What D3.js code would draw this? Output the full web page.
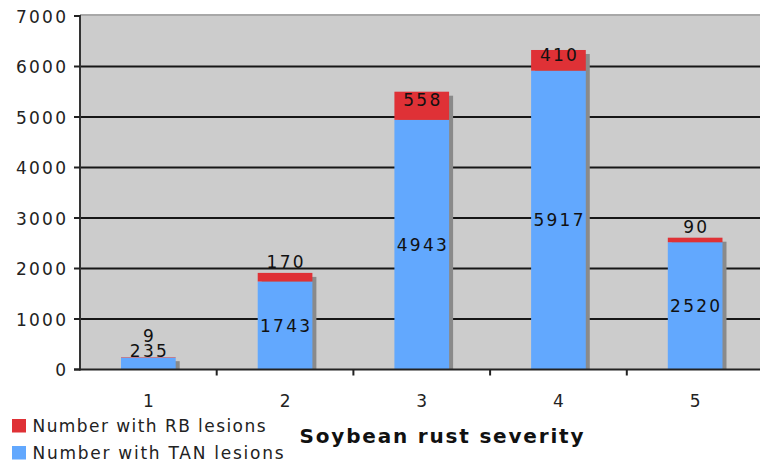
<!DOCTYPE html>
<html>
<head>
<meta charset="utf-8">
<script src="https://cdn.jsdelivr.net/npm/d3@7"></script>
<style>
  html, body { margin: 0; padding: 0; background: #fff; }
  svg { display: block; font-family: "DejaVu Sans", Verdana, sans-serif; }
</style>
</head>
<body>
<svg id="chart" width="760" height="466"></svg>
<script>
const categories = ["1", "2", "3", "4", "5"];
const tanValues = [235, 1743, 4943, 5917, 2520];
const rbValues = [9, 170, 558, 410, 90];
const yTicks = [0, 1000, 2000, 3000, 4000, 5000, 6000, 7000];
const seriesNames = ["Number with RB lesions", "Number with TAN lesions"];
const xTitle = "Soybean rust severity";

(function () {
const colors = { rb: "#df3136", tan: "#62a8fe", bg: "#cccccc", shadow: "#8a8a8a" };

const svg = d3.select("#chart");
const pLeft = 80, pRight = 763.5, pTop = 16, pBottom = 369.5;

const x = d3.scaleBand().domain(categories).range([pLeft, pRight]).paddingInner(0).paddingOuter(0);
const y = d3.scaleLinear().domain([0, 7000]).range([pBottom, pTop]);
const barW = x.bandwidth() * 0.4;

// plot background
svg.append("rect").attr("x", pLeft).attr("y", y(7000)).attr("width", pRight - pLeft).attr("height", pBottom - y(7000)).attr("fill", colors.bg);
svg.append("line").attr("x1", pLeft).attr("x2", pRight).attr("y1", y(7000) - 1).attr("y2", y(7000) - 1)
  .attr("stroke", "#a8a8a8").attr("stroke-width", 2);

// gridlines
svg.append("g").selectAll("line").data(yTicks.filter(d => d > 0 && d < 7000)).join("line")
  .attr("x1", pLeft).attr("x2", pRight).attr("y1", d => y(d)).attr("y2", d => y(d))
  .attr("stroke", "#161616").attr("stroke-width", 1.8);

// stacked data
const stacked = categories.map((c, i) => ({
  cat: c, tan: tanValues[i], rb: rbValues[i], total: tanValues[i] + rbValues[i]
}));

svg.append("clipPath").attr("id", "plotclip").append("rect")
  .attr("x", pLeft).attr("y", 0).attr("width", pRight - pLeft).attr("height", pBottom);

const bars = svg.append("g").attr("clip-path", "url(#plotclip)");
bars.selectAll("rect.shadow").data(stacked).join("rect").attr("class", "shadow")
  .attr("x", d => x(d.cat) + (x.bandwidth() - barW) / 2 + 4)
  .attr("y", d => y(d.total) + 4)
  .attr("width", barW)
  .attr("height", d => pBottom - y(d.total))
  .attr("fill", colors.shadow);
bars.selectAll("rect.tan").data(stacked).join("rect").attr("class", "tan")
  .attr("x", d => x(d.cat) + (x.bandwidth() - barW) / 2)
  .attr("y", d => y(d.tan))
  .attr("width", barW)
  .attr("height", d => y(0) - y(d.tan))
  .attr("fill", colors.tan);
bars.selectAll("rect.rb").data(stacked).join("rect").attr("class", "rb")
  .attr("x", d => x(d.cat) + (x.bandwidth() - barW) / 2)
  .attr("y", d => y(d.total))
  .attr("width", barW)
  .attr("height", d => y(d.tan) - y(d.total))
  .attr("fill", colors.rb);

// axes lines
svg.append("line").attr("x1", pLeft).attr("x2", pLeft).attr("y1", y(7000) - 1).attr("y2", pBottom + 1)
  .attr("stroke", "#333").attr("stroke-width", 2);
svg.append("line").attr("x1", pLeft - 6).attr("x2", pRight).attr("y1", pBottom).attr("y2", pBottom)
  .attr("stroke", "#222").attr("stroke-width", 2);

// y ticks + labels
const digitAdv = 13.1;
const numLen = s => digitAdv * s.length - 2.3;
const yAxis = svg.append("g");
yAxis.selectAll("line").data(yTicks).join("line")
  .attr("x1", pLeft - 6).attr("x2", pLeft).attr("y1", d => y(d)).attr("y2", d => y(d))
  .attr("stroke", "#222").attr("stroke-width", 2);
yAxis.selectAll("text").data(yTicks).join("text")
  .attr("x", 66).attr("y", d => y(d) + 6.5)
  .attr("text-anchor", "end").attr("font-size", 17).attr("fill", "#222")
  .attr("textLength", d => numLen(String(d))).attr("lengthAdjust", "spacing")
  .text(d => d);

// x ticks at band boundaries
const bounds = categories.slice(1).map(c => x(c));
svg.append("g").selectAll("line").data(bounds).join("line")
  .attr("x1", d => d).attr("x2", d => d).attr("y1", pBottom).attr("y2", pBottom + 6)
  .attr("stroke", "#222").attr("stroke-width", 2);
svg.append("g").selectAll("text").data(categories).join("text")
  .attr("x", d => x(d) + x.bandwidth() / 2).attr("y", 406.5)
  .attr("text-anchor", "middle").attr("font-size", 17).attr("fill", "#222")
  .text(d => d);

// value labels
const textH = 12.5;
const labels = svg.append("g");
stacked.forEach(d => {
  const cx = x(d.cat) + x.bandwidth() / 2;
  const tanTop = y(d.tan), tanBot = y(0);
  let tanBase;
  if (tanBot - tanTop >= textH + 4) tanBase = (tanTop + tanBot) / 2 + textH / 2;
  else tanBase = y(d.total);
  const rbTop = y(d.total), rbBot = y(d.tan);
  let rbBase;
  if (rbBot - rbTop >= textH + 4) rbBase = (rbTop + rbBot) / 2 + 0.5;
  else rbBase = rbTop - 5;
  if (rbBase > tanBase - textH - 1) rbBase = tanBase - 15;
  [[d.tan, tanBase], [d.rb, rbBase]].forEach(([v, b]) => {
    labels.append("text").attr("x", cx).attr("y", b)
      .attr("text-anchor", "middle").attr("font-size", 17).attr("fill", "#111")
      .attr("textLength", numLen(String(v))).attr("lengthAdjust", "spacing")
      .text(v);
  });
});

// axis title
svg.append("text").attr("x", 299.5).attr("y", 442.5)
  .attr("font-size", 20).attr("font-weight", "bold").attr("fill", "#111")
  .attr("textLength", 284).attr("lengthAdjust", "spacing")
  .text(xTitle);

// legend
const legend = [
  { name: seriesNames[0], color: colors.rb, y: 419, len: 233 },
  { name: seriesNames[1], color: colors.tan, y: 446, len: 251 }
];
const lg = svg.append("g");
lg.selectAll("rect").data(legend).join("rect")
  .attr("x", 12).attr("y", d => d.y).attr("width", 14).attr("height", 13.5).attr("fill", d => d.color);
lg.selectAll("text").data(legend).join("text")
  .attr("x", 32.5).attr("y", d => d.y + 13)
  .attr("font-size", 17).attr("fill", "#222")
  .attr("textLength", d => d.len).attr("lengthAdjust", "spacing")
  .text(d => d.name);
})();
</script>
</body>
</html>
